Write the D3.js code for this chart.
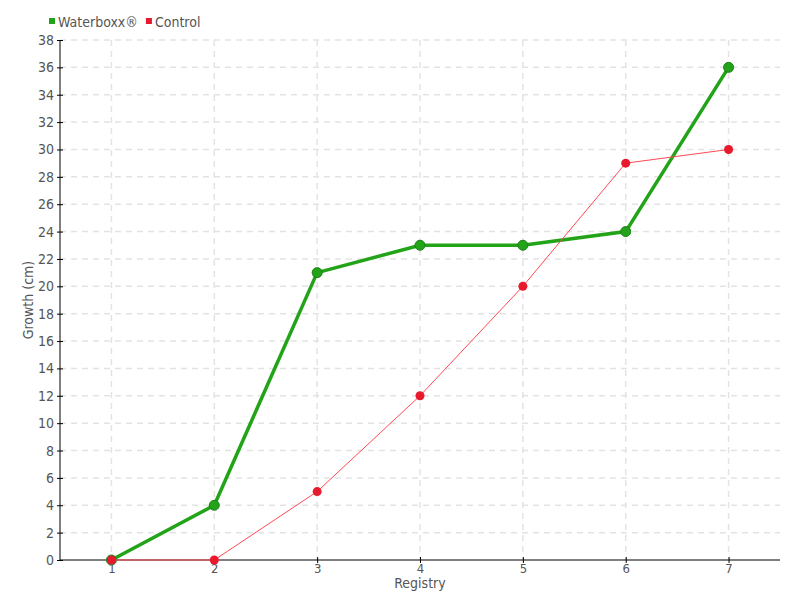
<!DOCTYPE html>
<html>
<head>
<meta charset="utf-8">
<script src="https://cdn.jsdelivr.net/npm/d3@7"></script>
<style>
  body { margin: 0; background: #fff; }
  text { font-family: "DejaVu Sans Condensed", "DejaVu Sans", sans-serif; fill: #555; }
</style>
</head>
<body>
<svg id="chart" width="800" height="600"></svg>
<script>
// data
var registry = [1, 2, 3, 4, 5, 6, 7];
var waterboxx = [0, 4, 21, 23, 23, 24, 36];
var control = [0, 0, 5, 12, 20, 29, 30];
var yTicks = d3.range(0, 39, 2);

var margin = { top: 40, right: 20, bottom: 40, left: 60 };
var width = 800, height = 600;

var svg = d3.select("#chart");

var x = d3.scalePoint()
  .domain(registry)
  .range([margin.left, width - margin.right])
  .padding(0.5);

var y = d3.scaleLinear()
  .domain([0, 38])
  .range([height - margin.bottom, margin.top]);

// grid
var grid = svg.append("g");
grid.selectAll(".hg")
  .data(yTicks.slice(1))
  .enter().append("line")
  .attr("x1", margin.left).attr("x2", width - margin.right)
  .attr("y1", d => y(d)).attr("y2", d => y(d))
  .attr("stroke", "#e3e3e3").attr("stroke-width", 1.5)
  .attr("stroke-dasharray", "6,5");
grid.selectAll(".vg")
  .data(registry)
  .enter().append("line")
  .attr("x1", d => x(d)).attr("x2", d => x(d))
  .attr("y1", margin.top).attr("y2", height - margin.bottom)
  .attr("stroke", "#e3e3e3").attr("stroke-width", 1.5)
  .attr("stroke-dasharray", "6,5");

// axes
var yAxis = svg.append("g")
  .attr("transform", `translate(${margin.left},0)`)
  .call(d3.axisLeft(y).tickValues(yTicks).tickSize(3).tickPadding(3));
yAxis.selectAll(".tick line").attr("x2", 3).attr("x1", -3);

var xAxis = svg.append("g")
  .attr("transform", `translate(0,${height - margin.bottom})`)
  .call(d3.axisBottom(x).tickSize(3).tickPadding(1));
xAxis.selectAll(".tick line").attr("y1", -3).attr("y2", 3);

svg.selectAll(".domain").attr("stroke", "#000").attr("d", null);
yAxis.select(".domain").attr("d", `M0,${margin.top}V${height - margin.bottom}`);
xAxis.select(".domain").attr("d", `M${margin.left},0H${width - margin.right}`);
svg.selectAll(".tick line").attr("stroke", "#000");
svg.selectAll(".tick text")
  .style("font-size", "14px")
  .attr("fill", "#555");
xAxis.selectAll(".tick text").style("font-size", "13px");

// axis titles
svg.append("text")
  .attr("transform", `translate(33,${(margin.top + height - margin.bottom) / 2}) rotate(-90)`)
  .attr("text-anchor", "middle")
  .style("font-size", "14px")
  .text("Growth (cm)");

svg.append("text")
  .attr("x", (margin.left + width - margin.right) / 2)
  .attr("y", 588)
  .attr("text-anchor", "middle")
  .style("font-size", "14px")
  .text("Registry");

// lines
var line = d3.line()
  .x((d, i) => x(registry[i]))
  .y(d => y(d));

svg.append("path")
  .datum(waterboxx)
  .attr("d", line)
  .attr("fill", "none")
  .attr("stroke", "#22a318")
  .attr("stroke-width", 3.5);

svg.selectAll(".wdot")
  .data(waterboxx)
  .enter().append("circle")
  .attr("cx", (d, i) => x(registry[i]))
  .attr("cy", d => y(d))
  .attr("r", 5)
  .attr("fill", "#22a318")
  .attr("stroke", "#1c7f18")
  .attr("stroke-width", 1);

svg.append("path")
  .datum(control)
  .attr("d", line)
  .attr("fill", "none")
  .attr("stroke", "#ff4a55")
  .attr("stroke-width", 1);

svg.selectAll(".cdot")
  .data(control)
  .enter().append("circle")
  .attr("cx", (d, i) => x(registry[i]))
  .attr("cy", d => y(d))
  .attr("r", 4.5)
  .attr("fill", "#e8192c");

// legend
var legend = [
  { name: "Waterboxx®", color: "#22a318" },
  { name: "Control", color: "#e8192c" }
];
var lx = 49;
legend.forEach(function (d) {
  svg.append("rect")
    .attr("x", lx).attr("y", 18)
    .attr("width", 6).attr("height", 6)
    .attr("fill", d.color);
  var t = svg.append("text")
    .attr("x", lx + 9).attr("y", 27)
    .style("font-size", "14px")
    .text(d.name);
  lx += 9 + t.node().getComputedTextLength() + 8;
});
</script>
</body>
</html>
